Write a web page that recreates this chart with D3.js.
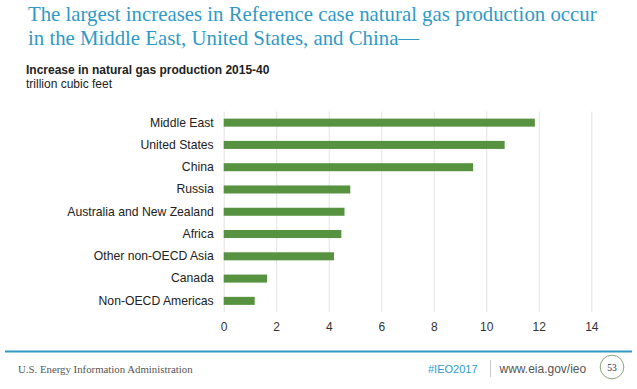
<!DOCTYPE html>
<html>
<head>
<meta charset="utf-8">
<script src="https://cdn.jsdelivr.net/npm/d3@7"></script>
<style>
    body { margin: 0; background: #fff; }
    svg { display: block; }
</style>
</head>
<body>
<div id="chart"></div>
<script>
// values, trillion cubic feet
const regions = ['Middle East', 'United States', 'China', 'Russia', 'Australia and New Zealand',
    'Africa', 'Other non-OECD Asia', 'Canada', 'Non-OECD Americas'];
const increases = [11.85, 10.7, 9.5, 4.82, 4.6, 4.48, 4.2, 1.65, 1.18];
const xTicks = [0, 2, 4, 6, 8, 10, 12, 14];
const titleLines = ['The largest increases in Reference case natural gas production occur',
    'in the Middle East, United States, and China\u2014'];

const W = 637, H = 389;
const blue = '#2f9ac6';
const green = '#56923f';
const sans = '"Liberation Sans", Arial, sans-serif';
const serif = '"Liberation Serif", "Times New Roman", serif';

const svg = d3.select('#chart').append('svg')
    .attr('width', W)
    .attr('height', H);

// title is set a bit narrower than Liberation Serif
svg.append('g')
    .attr('transform', 'translate(28,0) scale(0.946,1)')
    .selectAll('text')
    .data(titleLines)
    .enter()
    .append('text')
    .attr('x', 0)
    .attr('y', (d, i) => 21.5 + i * 23.5)
    .attr('font-family', serif)
    .attr('font-size', 22)
    .attr('fill', blue)
    .text(d => d);

svg.append('text')
    .attr('x', 26)
    .attr('y', 74)
    .attr('font-family', sans)
    .attr('font-size', 12)
    .attr('font-weight', 'bold')
    .attr('fill', '#222')
    .text('Increase in natural gas production 2015-40');

svg.append('text')
    .attr('x', 26)
    .attr('y', 88)
    .attr('font-family', sans)
    .attr('font-size', 12)
    .attr('fill', '#222')
    .text('trillion cubic feet');

// plot
const x = d3.scaleLinear().domain([0, 14]).range([223.7, 591.3]);
const y = d3.scaleBand().domain(regions).range([111.5, 312]).paddingInner(0.64).paddingOuter(0.32);

const grid = svg.append('g')
    .attr('transform', 'translate(0,312)')
    .call(d3.axisBottom(x).tickValues(xTicks).tickSize(-200.5).tickFormat(d3.format('d')));
grid.select('.domain').remove();
grid.selectAll('.tick line').attr('stroke', '#e2e2e2');
grid.selectAll('.tick text')
    .attr('y', 10)
    .attr('font-family', sans)
    .attr('font-size', 12)
    .attr('fill', '#333');

svg.append('g')
    .selectAll('rect')
    .data(increases)
    .enter()
    .append('rect')
    .attr('x', x(0))
    .attr('y', (d, i) => y(regions[i]))
    .attr('width', d => x(d) - x(0))
    .attr('height', y.bandwidth())
    .attr('fill', green);

const yAxis = svg.append('g')
    .attr('transform', 'translate(' + x(0) + ',0)')
    .call(d3.axisLeft(y).tickSize(0).tickPadding(10));
yAxis.select('.domain').remove();
yAxis.selectAll('.tick text')
    .attr('font-family', sans)
    .attr('font-size', 12.2)
    .attr('fill', '#222');

// footer
svg.append('line')
    .attr('x1', 5).attr('x2', 632)
    .attr('y1', 351.5).attr('y2', 351.5)
    .attr('stroke', blue)
    .attr('stroke-width', 2);

svg.append('text')
    .attr('x', 18)
    .attr('y', 373)
    .attr('font-family', serif)
    .attr('font-size', 10.8)
    .attr('fill', '#555')
    .text('U.S. Energy Information Administration');

svg.append('text')
    .attr('x', 428)
    .attr('y', 372.5)
    .attr('font-family', sans)
    .attr('font-size', 11)
    .attr('fill', blue)
    .text('#IEO2017');

svg.append('line')
    .attr('x1', 490.5).attr('x2', 490.5)
    .attr('y1', 360).attr('y2', 377)
    .attr('stroke', '#ccc');

svg.append('text')
    .attr('x', 499.5)
    .attr('y', 372.5)
    .attr('font-family', sans)
    .attr('font-size', 12)
    .attr('fill', '#555')
    .text('www.eia.gov/ieo');

svg.append('circle')
    .attr('cx', 612)
    .attr('cy', 367)
    .attr('r', 11.8)
    .attr('fill', 'none')
    .attr('stroke', '#8aa67a')
    .attr('stroke-width', 1);

svg.append('text')
    .attr('x', 612)
    .attr('y', 370.5)
    .attr('text-anchor', 'middle')
    .attr('font-family', serif)
    .attr('font-size', 9.5)
    .attr('fill', '#333')
    .text('53');
</script>
</body>
</html>
